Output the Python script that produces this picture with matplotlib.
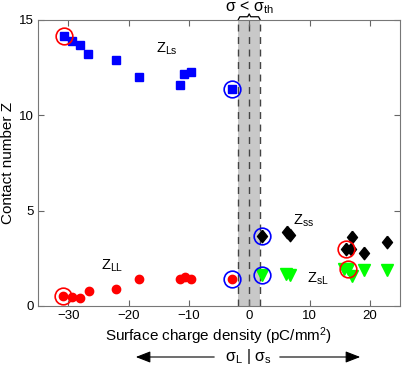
import matplotlib.pyplot as plt
from matplotlib.patches import Rectangle, FancyArrowPatch

plt.rcParams['font.family'] = ['Liberation Sans', 'DejaVu Sans']
plt.rcParams['mathtext.fontset'] = 'custom'
plt.rcParams['mathtext.rm'] = 'Liberation Sans'
plt.rcParams['mathtext.it'] = 'Liberation Sans:italic'

# contact numbers vs surface charge density
ls_x = [-30.7, -29.3, -28.0, -26.7, -22.1, -18.2, -10.8, -9.6, -11.4, -2.8]
ls_y = [14.16, 13.9, 13.7, 13.2, 12.9, 12.0, 12.15, 12.25, 11.6, 11.36]

ll_x = [-30.9, -29.3, -28.0, -26.6, -22.0, -18.2, -11.4, -10.7, -9.6, -2.8]
ll_y = [0.52, 0.49, 0.40, 0.79, 0.91, 1.43, 1.43, 1.54, 1.43, 1.41]

ss_x = [2.2, 6.2, 6.8, 17.1, 16.1, 16.8, 19.1, 22.9]
ss_y = [3.69, 3.86, 3.72, 3.64, 2.97, 2.97, 2.80, 3.34]

sl_x = [2.2, 6.1, 6.7, 15.8, 16.3, 17.1, 19.1, 22.8]
sl_y = [1.63, 1.68, 1.63, 1.92, 1.92, 1.57, 1.89, 1.89]

# highlighted points
red_x = [-30.7, -30.9, 16.1, 16.3]
red_y = [14.16, 0.52, 2.97, 1.92]
blue_x = [-2.8, -2.8, 2.2, 2.2]
blue_y = [11.36, 1.41, 3.69, 1.63]

band = 1.8

fig = plt.figure(figsize=(4.07, 3.66), dpi=100)
ax = fig.add_axes([38 / 407, 60 / 366, 362 / 407, 286 / 366])

ax.add_patch(Rectangle((-band, 0), 2 * band, 15, facecolor="#c8c8c8",
                       edgecolor="none", zorder=0))
for xv in [-band, 0, band]:
    ax.axvline(xv, color="#444444", linestyle=(0, (5, 4)), linewidth=1.0, zorder=1)

# matlab-like diamond, a bit taller than wide
diamond = [(0, 1), (0.8, 0), (0, -1), (-0.8, 0), (0, 1)]

ax.plot(ls_x, ls_y, "s", color="blue", markersize=6, zorder=3)
ax.plot(ll_x, ll_y, "o", color="red", markersize=6, zorder=3)
ax.plot(ss_x, ss_y, marker=diamond, ls="none", color="black", markersize=9, zorder=3)
ax.plot(sl_x, sl_y, "v", color="#00ff00", markersize=9, zorder=3)

ax.plot(red_x, red_y, "o", mfc="none", mec="red", markersize=12, mew=1.2, zorder=4)
ax.plot(blue_x, blue_y, "o", mfc="none", mec="blue", markersize=12, mew=1.2, zorder=4)

ax.text(-15.4, 13.3, r"Z$_{\rm Ls}$", fontsize=10.5)
ax.text(-24.5, 1.9, r"Z$_{\rm LL}$", fontsize=10.5)
ax.text(7.2, 4.25, r"Z$_{\rm ss}$", fontsize=10.5)
ax.text(9.6, 1.25, r"Z$_{\rm sL}$", fontsize=10.5)

ax.set_xlim(-35, 25)
ax.set_ylim(0, 15)
ax.set_xticks([-30, -20, -10, 0, 10, 20])
ax.set_yticks([0, 5, 10, 15])
ax.tick_params(direction="in", top=True, right=True, labelsize=9.5,
               color="#666666", length=4, pad=3)
for s in ax.spines.values():
    s.set_color("#777777")
ax.set_xlabel("Surface charge density (pC/mm$^2$)", fontsize=11, labelpad=2)
ax.set_ylabel("Contact number Z", fontsize=11, labelpad=3)

# curly brace above the band
brace_x = [-band, -band + 0.25, -0.25, 0, 0.25, band - 0.25, band]
brace_y = [15.02, 15.17, 15.17, 15.32, 15.17, 15.17, 15.02]
ax.plot(brace_x, brace_y, color="black", lw=0.9, clip_on=False)
ax.text(0, 15.66, "σ < σ$_{\\rm th}$", ha="center", va="center",
        fontsize=11.5, clip_on=False)

# arrows under x label
ya = 1 - 357 / 366
fig.text(248 / 407, ya, r"σ$_{\rm L}$ | σ$_{\rm s}$",
         ha="center", va="center", fontsize=11.5)
for x0, x1 in [(217, 133), (277, 363)]:
    fig.patches.append(FancyArrowPatch(
        (x0 / 407, ya), (x1 / 407, ya), transform=fig.transFigure,
        arrowstyle="-|>,head_length=9,head_width=3.5", color="black", lw=0.8))

fig.savefig("out.png", dpi=100)
